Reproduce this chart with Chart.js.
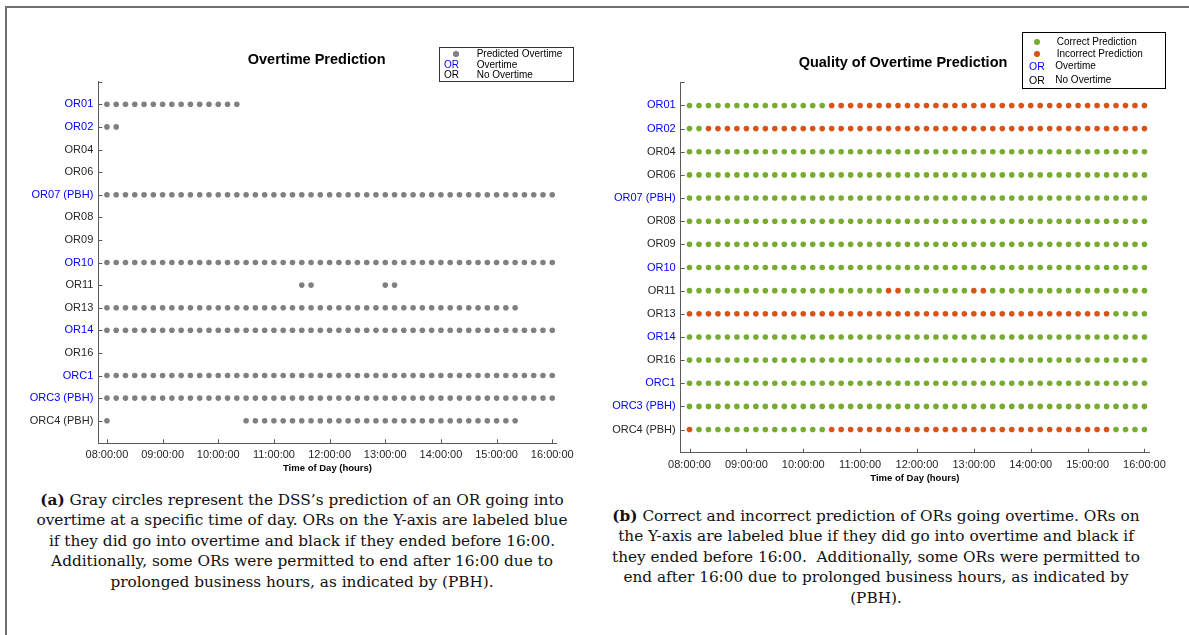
<!DOCTYPE html>
<html>
<head>
<meta charset="utf-8">
<script src="https://cdn.jsdelivr.net/npm/chart.js@4/dist/chart.umd.min.js"></script>
<style>
  html, body { margin: 0; padding: 0; background: #fff; }
  body { width: 1189px; height: 635px; overflow: hidden; position: relative; font-family: "Liberation Sans", Arial, sans-serif; }
  canvas { position: absolute; top: 0; }
  .t { position: absolute; white-space: nowrap; color: #000; }
  .dot { position: absolute; border-radius: 50%; }
  .box { position: absolute; box-sizing: border-box; }
  .cap { position: absolute; width: 800px; text-align: center; white-space: nowrap;
         font-family: "DejaVu Serif", "Liberation Serif", serif; font-size: 15.3px; line-height: 20.5px; color: #111; }
</style>
</head>
<body>
<div class="box" style="left:5px; top:6px; width:1300px; height:700px; border-left:2px solid #707070; border-top:2px solid #707070;"></div>

<canvas id="c1" width="594" height="480" style="left:0px;"></canvas>
<canvas id="c2" width="595" height="490" style="left:594px;"></canvas>

<!-- titles -->
<div class="t" style="left:216.7px; width:200px; text-align:center; top:51px; line-height:16px; font-size:14.5px; font-weight:bold;">Overtime Prediction</div>
<div class="t" style="left:753px; width:300px; text-align:center; top:53.7px; line-height:16px; font-size:14.5px; font-weight:bold;">Quality of Overtime Prediction</div>

<!-- left legend -->
<div class="box" style="left:439px; top:47px; width:135px; height:35px; border:1px solid #333;"></div>
<div class="dot" style="left:453.2px; top:51.2px; width:5.6px; height:5.6px; background:#808080;"></div>
<div class="t" style="left:476.7px; top:48px; line-height:12px; font-size:10px;">Predicted Overtime</div>
<div class="t" style="left:444px; top:58.5px; line-height:12px; font-size:10px; color:#0000ff;">OR</div>
<div class="t" style="left:476.7px; top:58.5px; line-height:12px; font-size:10px;">Overtime</div>
<div class="t" style="left:444px; top:68.5px; line-height:12px; font-size:10px;">OR</div>
<div class="t" style="left:476.7px; top:68.5px; line-height:12px; font-size:10px;">No Overtime</div>

<!-- right legend -->
<div class="box" style="left:1022px; top:32px; width:144px; height:57px; border:1.3px solid #000;"></div>
<div class="dot" style="left:1033.9px; top:38.9px; width:5.8px; height:5.8px; background:#77AC30;"></div>
<div class="t" style="left:1056.7px; top:35.7px; line-height:12px; font-size:10px;">Correct Prediction</div>
<div class="dot" style="left:1033.9px; top:51.2px; width:5.8px; height:5.8px; background:#D95319;"></div>
<div class="t" style="left:1056.7px; top:48px; line-height:12px; font-size:10px;">Incorrect Prediction</div>
<div class="t" style="left:1029px; top:60px; line-height:12px; font-size:10.5px; color:#0000ff;">OR</div>
<div class="t" style="left:1055.3px; top:60px; line-height:12px; font-size:10px;">Overtime</div>
<div class="t" style="left:1029px; top:74px; line-height:12px; font-size:10.5px;">OR</div>
<div class="t" style="left:1055.3px; top:74px; line-height:12px; font-size:10px;">No Overtime</div>

<!-- captions -->
<div class="cap" style="left:-98px; top:489.75px;"><b>(a)</b> Gray circles represent the DSS’s prediction of an OR going into<br>overtime at a specific time of day. ORs on the Y-axis are labeled blue<br>if they did go into overtime and black if they ended before 16:00.<br>Additionally, some ORs were permitted to end after 16:00 due to<br>prolonged business hours, as indicated by (PBH).</div>
<div class="cap" style="left:476px; top:505.75px;"><b>(b)</b> Correct and incorrect prediction of ORs going overtime. ORs on<br>the Y-axis are labeled blue if they did go into overtime and black if<br>they ended before 16:00.&nbsp; Additionally, some ORs were permitted to<br>end after 16:00 due to prolonged business hours, as indicated by<br>(PBH).</div>

<script>
// ---------------- DATA ----------------
const orLabels = ["OR01", "OR02", "OR04", "OR06", "OR07 (PBH)", "OR08", "OR09", "OR10",
                  "OR11", "OR13", "OR14", "OR16", "ORC1", "ORC3 (PBH)", "ORC4 (PBH)"];
// true = OR went into overtime (blue label), false = ended before 16:00 (black label)
const wentOvertime = [true, true, false, false, true, false, false, true,
                      false, false, true, false, true, true, false];

const timeSlots = ["08:00","08:10","08:20","08:30","08:40","08:50",
                   "09:00","09:10","09:20","09:30","09:40","09:50",
                   "10:00","10:10","10:20","10:30","10:40","10:50",
                   "11:00","11:10","11:20","11:30","11:40","11:50",
                   "12:00","12:10","12:20","12:30","12:40","12:50",
                   "13:00","13:10","13:20","13:30","13:40","13:50",
                   "14:00","14:10","14:20","14:30","14:40","14:50",
                   "15:00","15:10","15:20","15:30","15:40","15:50",
                   "16:00"];

const hourTicks = ["08:00:00","09:00:00","10:00:00","11:00:00","12:00:00",
                   "13:00:00","14:00:00","15:00:00","16:00:00"];

// Chart (a): 1 = predicted overtime at that time slot (one char per slot, grouped per hour)
const predictedOvertime = [
  "111111 111111 111000 000000 000000 000000 000000 000000 0", // OR01
  "110000 000000 000000 000000 000000 000000 000000 000000 0", // OR02
  "000000 000000 000000 000000 000000 000000 000000 000000 0", // OR04
  "000000 000000 000000 000000 000000 000000 000000 000000 0", // OR06
  "111111 111111 111111 111111 111111 111111 111111 111111 1", // OR07 (PBH)
  "000000 000000 000000 000000 000000 000000 000000 000000 0", // OR08
  "000000 000000 000000 000000 000000 000000 000000 000000 0", // OR09
  "111111 111111 111111 111111 111111 111111 111111 111111 1", // OR10
  "000000 000000 000000 000110 000000 110000 000000 000000 0", // OR11
  "111111 111111 111111 111111 111111 111111 111111 111000 0", // OR13
  "111111 111111 111111 111111 111111 111111 111111 111111 1", // OR14
  "000000 000000 000000 000000 000000 000000 000000 000000 0", // OR16
  "111111 111111 111111 111111 111111 111111 111111 111111 1", // ORC1
  "111111 111111 111111 111111 111111 111111 111111 111111 1", // ORC3 (PBH)
  "100000 000000 000111 111111 111111 111111 111111 111000 0"  // ORC4 (PBH)
];

// Chart (b): c = correct prediction, x = incorrect prediction
const predictionQuality = [
  "cccccc cccccc cccxxx xxxxxx xxxxxx xxxxxx xxxxxx xxxxxx x", // OR01
  "ccxxxx xxxxxx xxxxxx xxxxxx xxxxxx xxxxxx xxxxxx xxxxxx x", // OR02
  "cccccc cccccc cccccc cccccc cccccc cccccc cccccc cccccc c", // OR04
  "cccccc cccccc cccccc cccccc cccccc cccccc cccccc cccccc c", // OR06
  "cccccc cccccc cccccc cccccc cccccc cccccc cccccc cccccc c", // OR07 (PBH)
  "cccccc cccccc cccccc cccccc cccccc cccccc cccccc cccccc c", // OR08
  "cccccc cccccc cccccc cccccc cccccc cccccc cccccc cccccc c", // OR09
  "cccccc cccccc cccccc cccccc cccccc cccccc cccccc cccccc c", // OR10
  "cccccc cccccc cccccc cccxxc cccccc xxcccc cccccc cccccc c", // OR11
  "xxxxxx xxxxxx xxxxxx xxxxxx xxxxxx xxxxxx xxxxxx xxxccc c", // OR13
  "cccccc cccccc cccccc cccccc cccccc cccccc cccccc cccccc c", // OR14
  "cccccc cccccc cccccc cccccc cccccc cccccc cccccc cccccc c", // OR16
  "cccccc cccccc cccccc cccccc cccccc cccccc cccccc cccccc c", // ORC1
  "cccccc cccccc cccccc cccccc cccccc cccccc cccccc cccccc c", // ORC3 (PBH)
  "xccccc cccccc cccxxx xxxxxx xxxxxx xxxxxx xxxxxx xxxccc c"  // ORC4 (PBH)
];

// ---------------- HELPERS ----------------
function toHours(s) { const p = s.split(":"); return Number(p[0]) + Number(p[1]) / 60; }
const hourValues = hourTicks.map(toHours);

function pointsFor(rows, ch) {
  const pts = [];
  rows.forEach((row, r) => {
    const s = row.replace(/ /g, "");
    for (let k = 0; k < s.length; k++) {
      if (s[k] === ch) pts.push({ x: toHours(timeSlots[k]), y: r });
    }
  });
  return pts;
}

const AXIS = "#5a5a5a";
const TXT = "#262626";
const BLUE = "#0000ff";

const inwardTicks = {
  id: "inwardTicks",
  afterDraw(chart) {
    const { ctx, chartArea: a, scales: { x, y } } = chart;
    ctx.save();
    ctx.strokeStyle = AXIS;
    ctx.lineWidth = 1;
    ctx.beginPath();
    y.ticks.forEach(t => {
      const py = Math.round(y.getPixelForValue(t.value)) + 0.5;
      ctx.moveTo(a.left, py); ctx.lineTo(a.left + 4, py);
    });
    x.ticks.forEach(t => {
      const px = Math.round(x.getPixelForValue(t.value)) + 0.5;
      ctx.moveTo(px, a.bottom); ctx.lineTo(px, a.bottom - 4);
    });
    ctx.stroke();
    ctx.restore();
  }
};

function makeChart(id, datasets, cfg) {
  return new Chart(document.getElementById(id), {
    type: "scatter",
    data: { datasets },
    plugins: [inwardTicks],
    options: {
      responsive: false,
      animation: false,
      events: [],
      layout: { padding: cfg.padding },
      plugins: { legend: { display: false }, title: { display: false }, tooltip: { enabled: false } },
      scales: {
        x: {
          type: "linear",
          min: 8 - 0.155,
          max: 16 + 0.08,
          afterBuildTicks: s => { s.ticks = hourValues.map(v => ({ value: v })); },
          afterFit: s => { s.height = 32; },
          grid: { display: false, drawTicks: false },
          border: { display: true, color: AXIS, width: 1 },
          ticks: {
            autoSkip: false, maxRotation: 0, padding: 5.5,
            color: TXT,
            font: { family: "Liberation Sans, Arial, sans-serif", size: 11 },
            callback: v => { const i = hourValues.indexOf(v); return i >= 0 ? hourTicks[i] : ""; }
          },
          title: {
            display: true, text: "Time of Day (hours)", color: "#000",
            padding: { top: 0, bottom: 1 },
            font: { family: "Liberation Sans, Arial, sans-serif", size: 9.5, weight: "bold" }
          }
        },
        y: {
          type: "linear",
          reverse: true,
          min: -1,
          max: 15,
          afterBuildTicks: s => { s.ticks = [-1].concat(orLabels.map((_, i) => i)).map(v => ({ value: v })); },
          afterFit: s => { s.width = cfg.yWidth; },
          grid: { display: false, drawTicks: false },
          border: { display: true, color: AXIS, width: 1 },
          ticks: {
            autoSkip: false, padding: 5,
            font: { family: "Liberation Sans, Arial, sans-serif", size: 11 },
            color: c => (c.tick && wentOvertime[c.tick.value]) ? BLUE : TXT,
            callback: v => (orLabels[v] !== undefined ? orLabels[v] : "")
          }
        }
      }
    }
  });
}

const dotStyle = { pointRadius: 2.8, pointHoverRadius: 2.8, pointBorderWidth: 0, pointStyle: "circle" };

makeChart("c1", [
  Object.assign({ label: "Predicted Overtime", data: pointsFor(predictedOvertime, "1"),
                  backgroundColor: "#808080", borderColor: "#808080" }, dotStyle)
], { padding: { left: 0, top: 81.7, right: 37.3, bottom: 4.7 }, yWidth: 98.3 });

makeChart("c2", [
  Object.assign({ label: "Correct Prediction", data: pointsFor(predictionQuality, "c"),
                  backgroundColor: "#77AC30", borderColor: "#77AC30" }, dotStyle),
  Object.assign({ label: "Incorrect Prediction", data: pointsFor(predictionQuality, "x"),
                  backgroundColor: "#D95319", borderColor: "#D95319" }, dotStyle)
], { padding: { left: 0, top: 82.3, right: 40, bottom: 5.3 }, yWidth: 86.7 });
</script>
</body>
</html>
